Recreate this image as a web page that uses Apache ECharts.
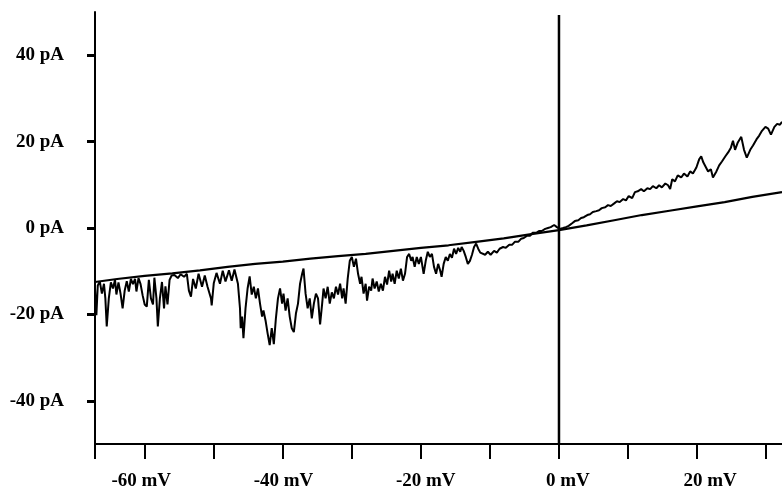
<!DOCTYPE html>
<html>
<head>
<meta charset="utf-8">
<script src="https://cdn.jsdelivr.net/npm/echarts@6/dist/echarts.min.js"></script>
<style>html,body{margin:0;padding:0;background:#fff}#c{width:782px;height:491px}</style>
</head>
<body>
<div id="c"></div>
<script>
// Voltage ticks (mV) and labels
var xTickValues = [-67.2, -60, -50, -40, -30, -20, -10, 0, 10, 20, 30];
var xLabelValues = [-60, -40, -20, 0, 20];
// Current ticks (pA)
var yTickValues = [-40, -20, 0, 20, 40];

// Smooth (leak) trace: [mV, pA]
var smoothTrace = [
  [-67.2,-12.5],[-64,-11.8],[-60,-11.1],[-56,-10.5],[-52,-9.8],[-48,-9.0],[-44,-8.3],
  [-40,-7.8],[-36,-7.1],[-32,-6.5],[-28,-6.0],[-24,-5.3],[-20,-4.6],[-16,-4.0],
  [-12,-3.2],[-8,-2.4],[-4,-1.4],[0,-0.5],[4,0.6],[8,1.8],[12,3.0],[16,4.0],
  [20,5.0],[24,6.0],[28,7.2],[32.3,8.3]
];

// Noisy trace: [mV, pA]
var noisyTrace = [
  [-67.2,-14.0],[-67.1,-17.5],[-67.0,-20.2],[-66.8,-13.3],[-66.5,-12.4],[-66.2,-15.2],
  [-65.9,-12.9],[-65.7,-16.3],[-65.5,-22.8],[-65.2,-16.3],[-64.9,-12.6],[-64.6,-14.0],
  [-64.3,-12.0],[-64.1,-15.4],[-63.8,-12.6],[-63.5,-15.2],[-63.2,-18.6],[-62.9,-14.5],
  [-62.6,-12.3],[-62.3,-14.7],[-62.0,-11.8],[-61.7,-13.0],[-61.4,-11.8],[-61.2,-14.7],
  [-60.9,-11.6],[-60.6,-13.0],[-60.3,-15.6],[-60.0,-17.7],[-59.7,-18.2],[-59.4,-12.0],
  [-59.1,-16.3],[-58.8,-17.7],[-58.6,-11.5],[-58.3,-16.3],[-58.1,-22.8],[-57.8,-16.3],
  [-57.5,-12.5],[-57.2,-18.6],[-57.0,-13.5],[-56.7,-17.7],[-56.4,-12.0],[-56.1,-11.0],
  [-55.7,-10.9],[-55.2,-11.6],[-54.8,-10.7],[-54.3,-11.3],[-53.9,-10.6],[-53.6,-14.5],
  [-53.3,-15.9],[-53.0,-11.8],[-52.6,-14.0],[-52.2,-10.6],[-51.7,-13.6],[-51.3,-11.0],
  [-50.9,-13.6],[-50.4,-16.3],[-50.3,-17.9],[-50.0,-12.8],[-49.6,-10.4],[-49.1,-12.9],
  [-48.7,-9.9],[-48.3,-12.4],[-47.8,-9.8],[-47.4,-12.2],[-47.0,-9.6],[-46.5,-12.9],
  [-46.2,-18.6],[-46.1,-23.2],[-45.9,-20.5],[-45.7,-25.5],[-45.4,-18.6],[-45.1,-14.0],
  [-44.8,-11.2],[-44.5,-15.4],[-44.2,-13.6],[-43.9,-16.3],[-43.6,-14.0],[-43.3,-17.5],
  [-43.0,-20.5],[-42.8,-19.1],[-42.5,-21.4],[-42.2,-24.4],[-41.9,-27.1],[-41.6,-23.2],
  [-41.3,-26.9],[-41.0,-20.9],[-40.7,-16.3],[-40.4,-14.0],[-40.1,-17.5],[-39.9,-15.2],
  [-39.6,-19.1],[-39.3,-16.3],[-39.0,-20.5],[-38.7,-23.2],[-38.4,-24.1],[-38.1,-19.8],
  [-37.8,-17.5],[-37.5,-12.9],[-37.2,-10.6],[-37.0,-9.4],[-36.7,-15.2],[-36.4,-18.6],
  [-36.1,-16.3],[-35.8,-20.9],[-35.5,-17.5],[-35.2,-15.2],[-34.9,-16.3],[-34.6,-22.3],
  [-34.3,-17.5],[-34.1,-14.0],[-33.8,-16.3],[-33.5,-13.6],[-33.2,-17.5],[-32.9,-14.9],
  [-32.6,-16.3],[-32.3,-13.6],[-32.0,-15.4],[-31.7,-12.9],[-31.4,-16.3],[-31.2,-14.0],
  [-30.9,-17.5],[-30.6,-11.7],[-30.3,-7.6],[-30.0,-6.7],[-29.7,-9.0],[-29.4,-7.1],
  [-29.1,-10.6],[-28.8,-12.9],[-28.6,-11.3],[-28.3,-15.2],[-28.0,-12.9],[-27.8,-16.8],
  [-27.5,-13.6],[-27.2,-14.5],[-27.0,-11.7],[-26.7,-14.0],[-26.4,-12.4],[-26.1,-14.7],
  [-25.8,-12.9],[-25.5,-14.5],[-25.2,-11.3],[-24.9,-13.1],[-24.6,-9.9],[-24.3,-12.4],
  [-24.1,-10.6],[-23.8,-12.9],[-23.5,-9.9],[-23.2,-11.7],[-22.9,-9.4],[-22.6,-12.2],
  [-22.3,-10.6],[-22.0,-6.7],[-21.7,-6.0],[-21.4,-7.6],[-21.2,-6.7],[-20.9,-9.0],
  [-20.6,-6.7],[-20.3,-8.3],[-20.0,-6.7],[-19.6,-10.6],[-19.3,-7.6],[-19.0,-5.5],
  [-18.7,-6.7],[-18.4,-6.0],[-18.1,-9.0],[-17.8,-10.6],[-17.5,-8.3],[-17.2,-9.9],
  [-17.0,-11.3],[-16.7,-8.3],[-16.4,-6.7],[-16.1,-7.6],[-15.8,-6.0],[-15.5,-6.9],
  [-15.2,-4.8],[-14.9,-6.0],[-14.6,-4.6],[-14.3,-5.5],[-14.1,-4.4],[-13.8,-5.3],
  [-13.5,-6.7],[-13.2,-8.3],[-12.9,-7.6],[-12.6,-6.2],[-12.3,-4.4],[-12.0,-3.6],
  [-11.7,-4.8],[-11.4,-5.7],[-11.2,-5.3],[-10.7,-6.2],[-10.3,-5.5],[-9.9,-6.2],
  [-9.4,-5.3],[-9.0,-5.7],[-8.6,-4.8],[-8.1,-4.4],[-7.7,-4.6],[-7.2,-3.9],
  [-6.8,-3.9],[-6.4,-3.2],[-5.9,-3.2],[-5.5,-2.5],[-5.1,-2.3],[-4.6,-1.8],
  [-4.2,-1.8],[-3.8,-1.1],[-3.3,-1.1],[-2.9,-0.7],[-2.5,-0.7],[-2.0,-0.2],
  [-1.6,0.0],[-1.2,0.2],[-0.7,0.7],[-0.3,0.2],[0.1,-0.2],[0.6,0.0],
  [1.0,0.2],[1.4,0.5],[1.9,1.1],[2.3,1.6],[2.8,1.8],[3.2,2.3],
  [3.6,2.5],[4.1,3.0],[4.5,3.2],[4.9,3.7],[5.4,3.9],[5.8,4.1],
  [6.2,4.6],[6.7,4.8],[7.1,5.3],[7.5,5.1],[8.0,5.7],[8.4,6.2],
  [8.8,6.0],[9.3,6.7],[9.7,6.4],[10.1,7.4],[10.6,6.9],[11.0,8.3],
  [11.4,8.5],[11.9,9.0],[12.3,8.5],[12.8,9.2],[13.2,9.0],[13.6,9.7],
  [14.1,9.2],[14.5,9.9],[14.9,9.4],[15.4,10.3],[15.8,9.9],[16.1,9.0],
  [16.4,11.3],[16.8,10.8],[17.2,12.2],[17.7,11.7],[18.1,12.6],[18.6,11.9],
  [19.0,13.1],[19.4,12.6],[19.9,14.0],[20.3,15.9],[20.6,16.6],[20.9,15.2],
  [21.2,14.3],[21.6,13.1],[22.0,13.6],[22.3,11.7],[22.8,13.1],[23.2,14.5],
  [23.6,15.4],[24.1,16.6],[24.5,17.5],[24.9,18.6],[25.2,20.2],[25.5,18.1],
  [25.9,19.8],[26.4,21.1],[26.8,18.1],[27.2,16.3],[27.7,18.1],[28.1,19.1],
  [28.6,20.5],[29.0,21.4],[29.4,22.5],[29.9,23.4],[30.3,23.0],[30.7,21.6],
  [31.2,23.4],[31.6,24.1],[32.0,23.9],[32.3,24.6]
];

// Vertical reference line at 0 mV
var zeroLine = [[0, -50], [0, 49.3]];

var labelFont = {
  fontFamily: 'Liberation Serif', fontWeight: 'bold', fontSize: 19, color: '#000'
};

var chart = echarts.init(document.getElementById('c'), null, {renderer: 'canvas'});
chart.setOption({
  animation: false,
  backgroundColor: '#fff',
  grid: {left: 95, right: 0, top: 12, bottom: 46, containLabel: false},
  xAxis: [{
    type: 'value', min: -67.2, max: 32.3, position: 'bottom',
    axisLine: {show: true, onZero: false, lineStyle: {color: '#000', width: 2}},
    axisTick: {show: true, customValues: xTickValues, length: 15, lineStyle: {color: '#000', width: 2}},
    axisLabel: {show: false},
    splitLine: {show: false}
  }, {
    type: 'value', min: -66.5, max: 30.1, position: 'bottom',
    axisLine: {show: false, onZero: false},
    axisTick: {show: false},
    splitLine: {show: false},
    axisLabel: Object.assign({
      show: true, customValues: xLabelValues, margin: 28,
      formatter: function (v) { return v + ' mV'; }
    }, labelFont)
  }],
  yAxis: {
    type: 'value', min: -50, max: 50,
    axisLine: {show: true, onZero: false, lineStyle: {color: '#000', width: 2}},
    axisTick: {show: true, customValues: yTickValues, length: 8, lineStyle: {color: '#000', width: 3}},
    axisLabel: Object.assign({
      show: true, customValues: yTickValues, margin: 31,
      formatter: function (v) { return v + ' pA'; }
    }, labelFont),
    splitLine: {show: false}
  },
  series: [{
    type: 'line', data: zeroLine, xAxisIndex: 0, showSymbol: false, silent: true,
    lineStyle: {color: '#000', width: 2.5}
  }, {
    type: 'line', data: smoothTrace, xAxisIndex: 0, showSymbol: false, silent: true,
    lineStyle: {color: '#000', width: 2.2}
  }, {
    type: 'line', data: noisyTrace, xAxisIndex: 0, showSymbol: false, silent: true,
    lineStyle: {color: '#000', width: 2}
  }]
});
</script>
</body>
</html>
